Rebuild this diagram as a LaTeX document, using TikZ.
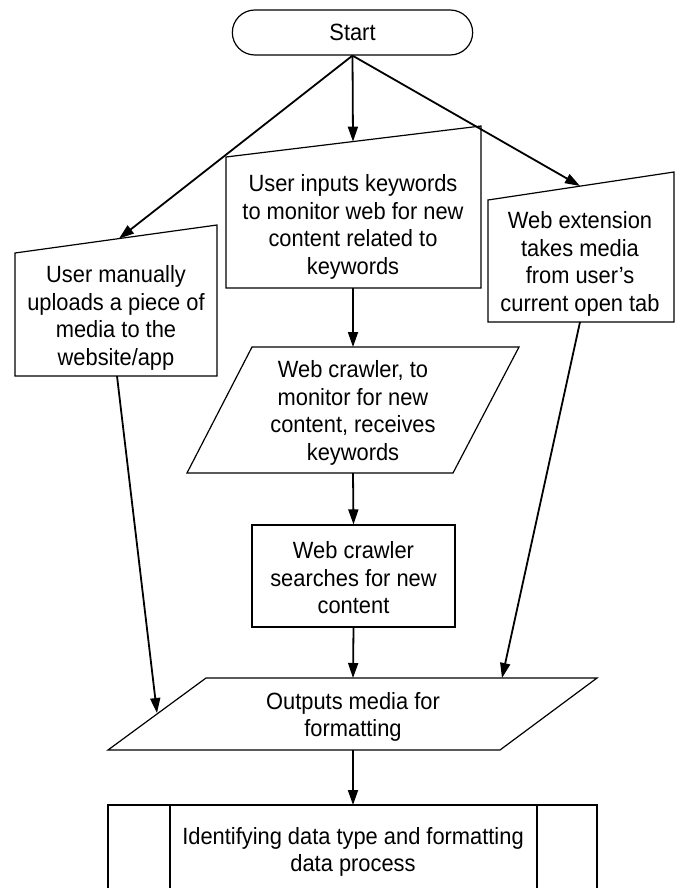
\documentclass[tikz,border=0pt]{standalone}
\usepackage{fontspec}
\setmainfont[FakeStretch=0.93]{Liberation Sans}
\usetikzlibrary{arrows.meta,shapes.misc}
\begin{document}
\begin{tikzpicture}[x=1pt,y=-1pt,
  shapeline/.style={draw=black,line width=1.2pt},
  txt/.style={align=center,font=\fontsize{23.5}{27.5}\selectfont,inner sep=0pt},
  flow/.style={draw=black,line width=1.8pt,-{Triangle[length=15pt,width=10pt]}}]
\path[use as bounding box] (0,0) rectangle (676,888);
\clip (0,0) rectangle (676,888);

% start terminator
\node[shapeline,rounded rectangle,minimum width=247pt,minimum height=45pt,
      font=\fontsize{23.5}{27.5}\selectfont] (start) at (352.5,32.5) {Start};

% manual input: keywords (middle)
\draw[shapeline] (226,157) -- (481,126) -- (481,288) -- (226,288) -- cycle;
\coordinate (kwIn) at (353,141.6);
\coordinate (kwOut) at (353,288);
\node[txt] (kw) at (353,227) {User inputs keywords\\to monitor web for new\\content related to\\keywords};

% manual input: upload (left)
\draw[shapeline] (15,253) -- (217,225) -- (217,376) -- (15,376) -- cycle;
\coordinate (upIn) at (119,238.6);
\coordinate (upOut) at (117,376);
\node[txt] (up) at (116,318) {User manually\\uploads a piece of\\media to the\\website/app};

% manual input: web extension (right)
\draw[shapeline] (488,200) -- (674,172) -- (674,322) -- (488,322) -- cycle;
\coordinate (extIn) at (580,186);
\coordinate (extOut) at (580,322);
\node[txt] (ext) at (580,264) {Web extension\\takes media\\from user's\\current open tab};

% data: crawler receives keywords
\draw[shapeline] (252,347) -- (519,347) -- (453,473) -- (187,473) -- cycle;
\coordinate (rcvIn) at (353,347);
\coordinate (rcvOut) at (353,473);
\node[txt] (rcv) at (353,413) {Web crawler, to\\monitor for new\\content, receives\\keywords};

% process: crawler searches
\node[shapeline,minimum width=203pt,minimum height=102pt] (searchbox) at (353.5,576) {};
\node[txt] (search) at (353.5,578) {Web crawler\\searches for new\\content};

% data: outputs media
\draw[shapeline] (206,678) -- (597,678) -- (500,750) -- (108,750) -- cycle;
\coordinate (outInA) at (353,678);
\coordinate (outInL) at (157,713);
\coordinate (outInR) at (502,678);
\coordinate (outOut) at (353,750);
\node[txt] (out) at (353,717) {Outputs media for\\formatting};

% predefined process
\draw[shapeline] (108,805) rectangle (597,920);
\draw[shapeline] (170,805) -- (170,920) (537,805) -- (537,920);
\coordinate (idIn) at (353,805);
\node[txt] (id) at (353,852) {Identifying data type and formatting\\data process};

% connectors
\draw[flow] (start.south) -- (upIn);
\draw[flow] (start.south) -- (kwIn);
\draw[flow] (start.south) -- (extIn);
\draw[flow] (kwOut) -- (rcvIn);
\draw[flow] (rcvOut) -- (searchbox.north);
\draw[flow] (searchbox.south) -- (outInA);
\draw[flow] (upOut) -- (outInL);
\draw[flow] (extOut) -- (outInR);
\draw[flow] (outOut) -- (idIn);
\end{tikzpicture}
\end{document}
